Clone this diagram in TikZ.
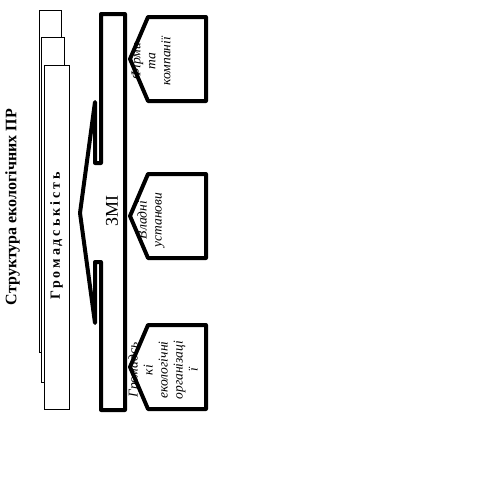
\documentclass[tikz,border=0pt]{standalone}
\usepackage{fontspec}
\setmainfont{Liberation Serif}
\usetikzlibrary{positioning}

\begin{document}
\begin{tikzpicture}[x=1pt, y=-1pt,
  sheet/.style={draw, fill=white, line width=0.7pt},
  heavybox/.style={draw, fill=white, line width=4pt, line join=round},
  boxtext/.style={rotate=90, align=center, inner sep=0pt, font=\itshape\fontsize{13.5}{15}\selectfont}]
\useasboundingbox (0,0) rectangle (480,493);
% stacked sheets
\draw[sheet] (39,10) rectangle (61,352);
\draw[sheet] (41,37) rectangle (64,382);
\draw[sheet] (44,65) rectangle (69,409);
\node[rotate=90, font=\bfseries\fontsize{14}{16}\selectfont\addfontfeature{LetterSpace=21}] (hromada) at (56.5,236) {Громадськість};
\node[rotate=90, font=\bfseries\fontsize{16}{18}\selectfont] (title) at (12.5,207) {Структура екологічних ПР};
% ZMI callout
\draw[heavybox] (101,14) -- (125,14) -- (125,410) -- (101,410) -- (101,262) -- (95,262)
  -- (95,323) -- (80,213) -- (95,102) -- (95,163) -- (101,163) -- cycle;
\node[rotate=90, font=\fontsize{18}{20}\selectfont] (zmi) at (112,211) {ЗМІ};
% right callouts
\foreach \y in {17,174,325}
  \draw[heavybox] (148,\y) -- (206,\y) -- (206,\y+84) -- (148,\y+84) -- (130,\y+42) -- cycle;
\node[boxtext] (firms) at (151,61) {Фірми\\та\\компанії};
\node[boxtext] (gov) at (151,220) {Владні\\установи};
\node[boxtext] (ngo) at (163,370) {Громадсь\\кі\\екологічні\\організаці\\ї};
\end{tikzpicture}
\end{document}
